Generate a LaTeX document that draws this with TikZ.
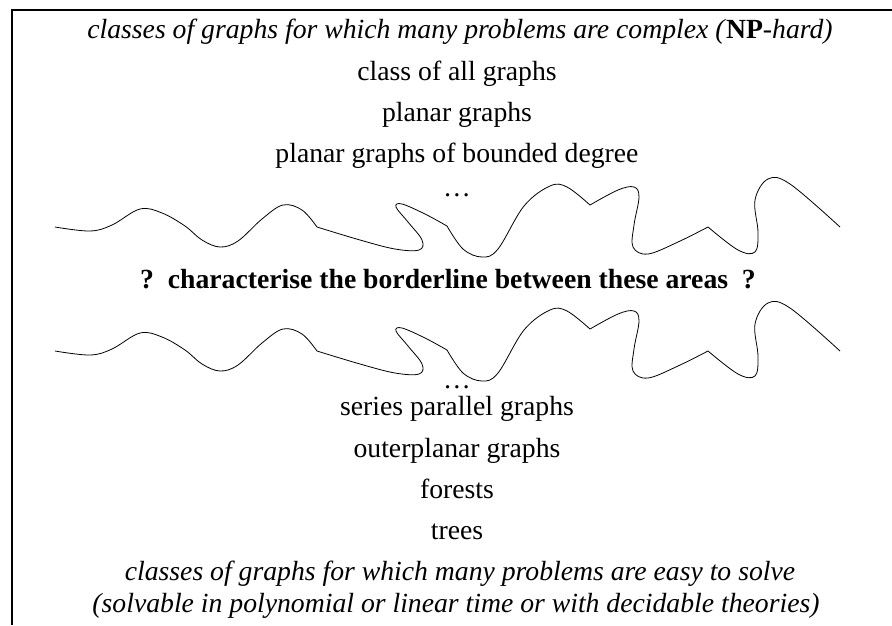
\documentclass[tikz,border=0pt]{standalone}
\usepackage{fontspec}
\setmainfont{Liberation Serif}
\begin{document}
\begin{tikzpicture}[x=1pt,y=-1pt,
  lbl/.style={anchor=base, inner sep=0pt, font=\fontsize{27.7}{32}\selectfont},
  ilbl/.style={anchor=base, inner sep=0pt, font=\fontsize{27.7}{32}\selectfont\itshape},
  blbl/.style={anchor=base, inner sep=0pt, font=\fontsize{27.7}{32}\selectfont\bfseries},
  frame/.style={line width=1.4pt},
  wave/.style={line width=0.8pt, line join=round},
  wavy/.pic={
    \draw[wave] plot[smooth,tension=0.6] coordinates {(55,227) (90,231) (112,225) (140,209) (162,213) (185,226) (202,240) (220,247) (238,241) (262,219) (283,205) (302,210) (317,227)}
      -- plot[smooth,tension=0.6] coordinates {(317,227) (360,240) (395,249) (419,250) (422,240) (408,222) (396,207) (402,204) (425,214) (447,226)}
      -- plot[smooth,tension=0.6] coordinates {(447,226) (463,249) (482,257) (498,249) (524,206) (550,186) (567,187) (590,205)}
      -- plot[smooth,tension=0.6] coordinates {(590,205) (618,190) (634,187) (639,197) (634,225) (633,247) (648,254) (678,242) (708,227)}
      -- plot[smooth,tension=0.6] coordinates {(708,227) (738,250) (755,252) (758,232) (755,200) (768,179) (790,184) (840,227)};
  }]
\useasboundingbox (0,0) rectangle (892,625);
\coordinate (fbl) at (12,625);
\coordinate (ftl) at (12,10);
\coordinate (ftr) at (892,10);
\draw[frame] (fbl) -- (ftl) -- (ftr);

\node[ilbl] (hard) at (460,38) {classes of graphs for which many problems are complex (\textup{\textbf{NP}}-hard)};
\node[lbl] (all) at (457,80) {class of all graphs};
\node[lbl] (planar) at (457,121) {planar graphs};
\node[lbl] (bdeg) at (457,162) {planar graphs of bounded degree};
\node[lbl] (dots1) at (457,196) {\dots};

\pic (w1) at (0,0) {wavy};

\node[blbl] (q) at (448,288) {?\ \ characterise the borderline between these areas\ \ ?};

\pic (w2) at (0,124) {wavy};

\node[lbl] (dots2) at (457,388) {\dots};
\node[lbl] (sp) at (457,415) {series parallel graphs};
\node[lbl] (outer) at (457,457) {outerplanar graphs};
\node[lbl] (forests) at (457,498) {forests};
\node[lbl] (trees) at (457,539) {trees};
\node[ilbl] (easy1) at (460,580) {classes of graphs for which many problems are easy to solve};
\node[ilbl] (easy2) at (456,612) {(solvable in polynomial or linear time or with decidable theories)};
\end{tikzpicture}
\end{document}
